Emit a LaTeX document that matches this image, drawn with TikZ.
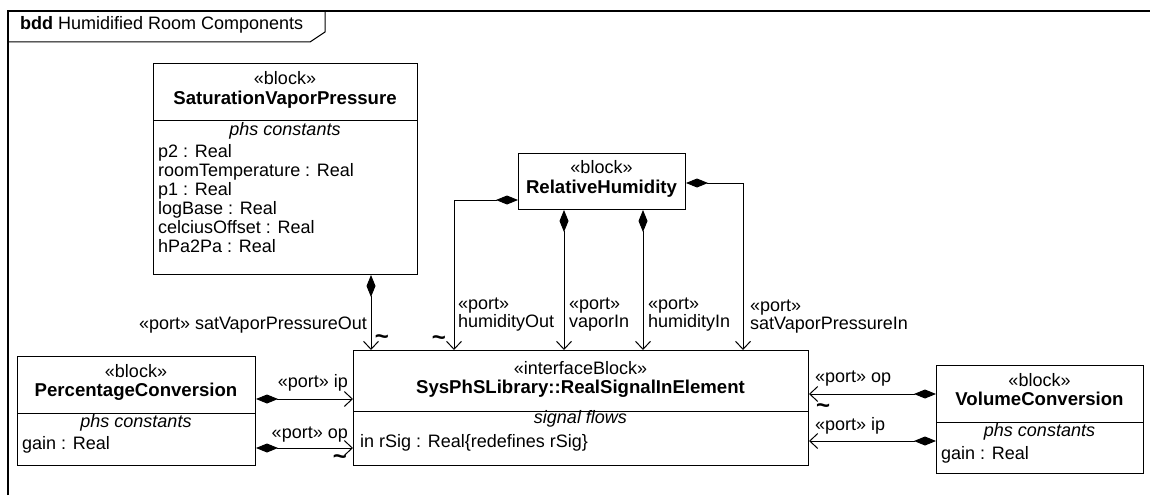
\documentclass[tikz,border=0pt]{standalone}
\usepackage{fontspec}
\setmainfont{Liberation Sans}
\usetikzlibrary{arrows.meta}
\newcommand{\bnm}{\fontsize{18.6}{20}\selectfont\bfseries}
\begin{document}
\begin{tikzpicture}[x=1pt,y=-1pt,
  font=\fontsize{18}{20}\selectfont,
  box/.style={draw, line width=1pt, inner sep=0pt, anchor=north west},
  txt/.style={inner sep=0pt, anchor=mid},
  txl/.style={inner sep=0pt, anchor=mid west},
  txr/.style={inner sep=0pt, anchor=mid east},
  sepline/.style={line width=1pt},
  frameline/.style={line width=1.4pt},
  comp/.style={line width=1pt, {Diamond[length=22pt,width=9pt]}-{Straight Barb[length=8pt,width=15pt,line width=1pt]}},
  tld/.style={inner sep=0pt, anchor=mid, font=\fontsize{24}{24}\selectfont\bfseries}
]
\useasboundingbox (0,0) rectangle (1150,495);
% frame
\draw[frameline] (8,495) -- (8,11) -- (1150,11);
\draw[line width=1pt] (8,42) -- (310,42) -- (325,32) -- (325,11);
\node[txl] (title) at (20,27) {\textbf{bdd} Humidified Room Components};

% SaturationVaporPressure
\node[box, minimum width=264pt, minimum height=211pt] (svp) at (153,63) {};
\node[txt] (svp-st) at (285,82) {«block»};
\node[txt] (svp-nm) at (285,102) {\bnm SaturationVaporPressure};
\draw[sepline] (svp.west |- 0,120) -- (svp.east |- 0,120);
\node[txt] (svp-cp) at (285,133) {\itshape phs constants};
\node[txl] (svp-a1) at (158,155) {p2 : Real};
\node[txl] (svp-a2) at (158,174) {roomTemperature : Real};
\node[txl] (svp-a3) at (158,193) {p1 : Real};
\node[txl] (svp-a4) at (158,212) {logBase : Real};
\node[txl] (svp-a5) at (158,231) {celciusOffset : Real};
\node[txl] (svp-a6) at (158,250) {hPa2Pa : Real};

% RelativeHumidity
\node[box, minimum width=167pt, minimum height=56pt] (rh) at (518,153) {};
\node[txt] (rh-st) at (601.5,171) {«block»};
\node[txt] (rh-nm) at (601.5,191) {\bnm RelativeHumidity};

% Interface block
\node[box, minimum width=455pt, minimum height=115pt] (ib) at (353,350) {};
\node[txt] (ib-st) at (580.5,372) {«interfaceBlock»};
\node[txt] (ib-nm) at (580.5,391) {\bnm SysPhSLibrary::RealSignalInElement};
\draw[sepline] (ib.west |- 0,411) -- (ib.east |- 0,411);
\node[txt] (ib-cp) at (580.5,421) {\itshape signal flows};
\node[txl] (ib-a1) at (360,445) {in rSig : Real\{redefines rSig\}};

% PercentageConversion
\node[box, minimum width=238pt, minimum height=109pt] (pc) at (17,356) {};
\node[txt] (pc-st) at (136,375) {«block»};
\node[txt] (pc-nm) at (136,394) {\bnm PercentageConversion};
\draw[sepline] (pc.west |- 0,413) -- (pc.east |- 0,413);
\node[txt] (pc-cp) at (136,425) {\itshape phs constants};
\node[txl] (pc-a1) at (22,447) {gain : Real};

% VolumeConversion
\node[box, minimum width=207pt, minimum height=108pt] (vc) at (936,365) {};
\node[txt] (vc-st) at (1039.5,384) {«block»};
\node[txt] (vc-nm) at (1039.5,403) {\bnm VolumeConversion};
\draw[sepline] (vc.west |- 0,422) -- (vc.east |- 0,422);
\node[txt] (vc-cp) at (1039.5,434) {\itshape phs constants};
\node[txl] (vc-a1) at (941,457) {gain : Real};

% connector coordinates
\coordinate (k1) at (371,0);
\coordinate (k2) at (454,200);
\coordinate (k3) at (564,0);
\coordinate (k4) at (643,0);
\coordinate (k5) at (743,183);
\coordinate (k6) at (0,399);
\coordinate (k7) at (0,448);
\coordinate (k8) at (0,394);
\coordinate (k9) at (0,441);

% connectors
\draw[comp] (svp.south -| k1) -- (ib.north -| k1);
\draw[comp] (rh.west |- k2) -| (ib.north -| k2);
\draw[comp] (rh.south -| k3) -- (ib.north -| k3);
\draw[comp] (rh.south -| k4) -- (ib.north -| k4);
\draw[comp] (rh.east |- k5) -| (ib.north -| k5);
\draw[comp] (pc.east |- k6) -- (ib.west |- k6);
\draw[comp] (pc.east |- k7) -- (ib.west |- k7);
\draw[comp] (vc.west |- k8) -- (ib.east |- k8);
\draw[comp] (vc.west |- k9) -- (ib.east |- k9);

% port labels
\node[txr] (l1) at (367,327) {«port» satVaporPressureOut};
\node[tld] (t1) at (382,342) {\textasciitilde};
\node[txl] (l2a) at (458,307) {«port»};
\node[txl] (l2b) at (458,325) {humidityOut};
\node[tld] (t2) at (439,343) {\textasciitilde};
\node[txl] (l3a) at (569,307) {«port»};
\node[txl] (l3b) at (569,325) {vaporIn};
\node[txl] (l4a) at (648,307) {«port»};
\node[txl] (l4b) at (648,325) {humidityIn};
\node[txl] (l5a) at (750,309) {«port»};
\node[txl] (l5b) at (750,327) {satVaporPressureIn};
\node[txr] (l6) at (348,385) {«port» ip};
\node[txr] (l7) at (348,436) {«port» op};
\node[tld] (t7) at (340,462) {\textasciitilde};
\node[txl] (l8) at (815,380) {«port» op};
\node[tld] (t8) at (823,411) {\textasciitilde};
\node[txl] (l9) at (815,428) {«port» ip};
\end{tikzpicture}
\end{document}
